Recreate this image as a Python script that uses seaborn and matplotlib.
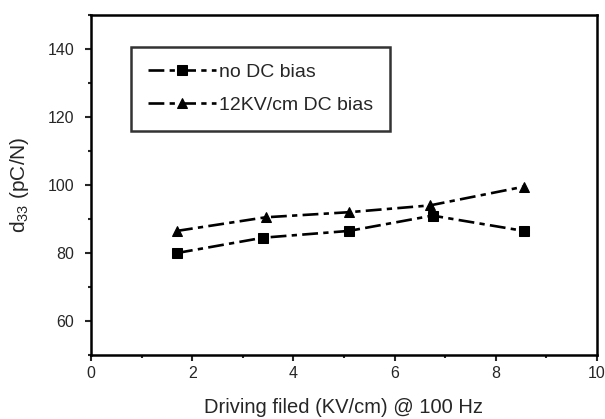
import matplotlib
matplotlib.use("Agg")
import matplotlib.pyplot as plt
import seaborn as sns
import pandas as pd
from matplotlib.ticker import MultipleLocator

# Data
x_no_bias = [1.7, 3.4, 5.1, 6.75, 8.55]
y_no_bias = [80.0, 84.5, 86.5, 91.0, 86.5]
x_bias = [1.7, 3.45, 5.1, 6.7, 8.55]
y_bias = [86.5, 90.5, 92.0, 94.0, 99.5]
series_names = ["no DC bias", "12KV/cm DC bias"]

df = pd.concat([
    pd.DataFrame({"x": x_no_bias, "y": y_no_bias, "series": series_names[0]}),
    pd.DataFrame({"x": x_bias, "y": y_bias, "series": series_names[1]}),
])

sns.set_style("ticks")
plt.rcParams['font.family'] = ['Liberation Sans', 'DejaVu Sans']
plt.rcParams['mathtext.fontset'] = 'custom'
plt.rcParams['mathtext.rm'] = 'Liberation Sans'
plt.rcParams['mathtext.it'] = 'Liberation Sans'

fig = plt.figure(figsize=(6.05, 4.19), dpi=100)
ax = fig.add_axes([91/605, 1-355/419, (597-91)/605, (355-15)/419])

sns.lineplot(data=df, x="x", y="y", hue="series", style="series",
             markers={series_names[0]: "s", series_names[1]: "^"},
             dashes={series_names[0]: (6, 2, 2, 2), series_names[1]: (6, 2, 2, 2)},
             palette={series_names[0]: "black", series_names[1]: "black"},
             markersize=6.5, linewidth=1.9, markeredgecolor="black",
             ax=ax, legend=True, sort=False)

ax.set_xlim(0, 10)
ax.set_ylim(50, 150)
ax.xaxis.set_major_locator(MultipleLocator(2))
ax.xaxis.set_minor_locator(MultipleLocator(1))
ax.yaxis.set_major_locator(MultipleLocator(20))
ax.yaxis.set_minor_locator(MultipleLocator(10))
ax.set_yticks([60, 80, 100, 120, 140])
ax.tick_params(which="major", direction="out", length=4, width=1.5, labelsize=11.5)
ax.tick_params(axis="y", which="major", pad=8)
ax.tick_params(axis="x", which="major", pad=4)
ax.tick_params(which="minor", direction="out", length=2.5, width=1.5)
for s in ax.spines.values():
    s.set_linewidth(1.8)
    s.set_color("black")

ax.set_xlabel("Driving filed (KV/cm) @ 100 Hz", fontsize=14.5, labelpad=12)
ax.set_ylabel("d$_{33}$ (pC/N)", fontsize=15, labelpad=12)

leg = ax.legend(loc="upper left", bbox_to_anchor=((131-91)/506, 1-(47-15)/340),
                borderaxespad=0,
                fontsize=14, frameon=True, fancybox=False, edgecolor="black",
                handlelength=3.5, borderpad=0.85, labelspacing=0.8, handletextpad=0.2)
leg.get_frame().set_linewidth(1.8)

fig.savefig("out.png", dpi=100)
